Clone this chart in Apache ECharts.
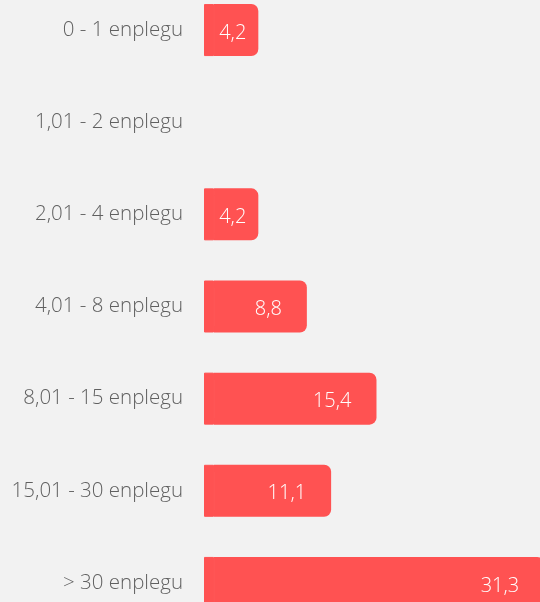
<!DOCTYPE html>
<html>
<head>
<meta charset="utf-8">
<script src="https://cdn.jsdelivr.net/npm/echarts@6/dist/echarts.min.js"></script>
<style>
  html, body { margin: 0; padding: 0; background: #f2f2f2; overflow: hidden; }
  #chart { width: 540px; height: 645px; margin-top: -16px; }
</style>
</head>
<body>
<div id="chart"></div>
<script>
  // datuak
  const categories = ['0 - 1 enplegu', '1,01 - 2 enplegu', '2,01 - 4 enplegu', '4,01 - 8 enplegu',
    '8,01 - 15 enplegu', '15,01 - 30 enplegu', '> 30 enplegu']
  const values = [4.2, 0, 4.2, 8.8, 15.4, 11.1, 31.3]

  const barColor = '#ff5252'
  const lead = 0.95 // barrak ardatzaren hasieratik apur bat lehenago hasten dira

  const chart = echarts.init(document.getElementById('chart'))
  chart.setOption({
    backgroundColor: '#f2f2f2',
    animation: false,
    textStyle: { fontFamily: 'Open Sans' },
    grid: { left: 204, right: 0, top: 0, bottom: 0, containLabel: false },
    xAxis: {
      type: 'value',
      min: 0,
      max: 31.85,
      show: false
    },
    yAxis: {
      type: 'category',
      data: categories,
      inverse: true,
      axisLine: { show: false },
      axisTick: { show: false },
      axisLabel: {
        margin: 21,
        fontSize: 20.5,
        fontWeight: 300,
        color: '#606060',
        padding: [2, 0, 0, 0]
      }
    },
    series: [
      {
        type: 'bar',
        stack: 'total',
        barWidth: 52,
        silent: true,
        clip: false,
        itemStyle: { color: barColor, borderColor: barColor, borderWidth: 1 },
        data: values.map(v => v > 0 ? lead : '-')
      },
      {
        type: 'bar',
        stack: 'total',
        barWidth: 52,
        clip: false,
        itemStyle: { color: barColor, borderRadius: [0, 7, 7, 0] },
        label: {
          show: true,
          position: 'insideRight',
          distance: 25,
          offset: [0, 3],
          color: '#ffffff',
          fontSize: 20,
          fontWeight: 300,
          formatter: p => p.value > 0 ? String(p.value).replace('.', ',') : ''
        },
        data: values.map(v => v < 5 ? { value: v, label: { distance: 12 } } : v)
      }
    ]
  })
  window.addEventListener('resize', function () {
    chart.resize()
  })
</script>
</body>
</html>
